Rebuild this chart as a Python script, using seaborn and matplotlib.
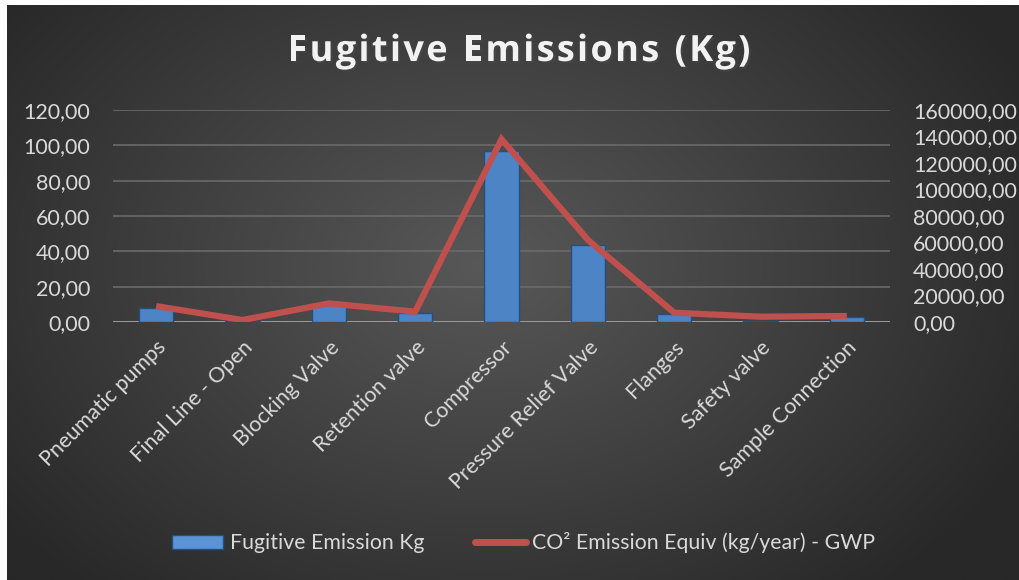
import numpy as np
import pandas as pd
import matplotlib
matplotlib.use("Agg")
import matplotlib.pyplot as plt
import seaborn as sns
from matplotlib.patches import Patch
from matplotlib.lines import Line2D
from matplotlib.ticker import FuncFormatter, FixedLocator
import matplotlib.patheffects as pe

categories = ["Pneumatic pumps", "Final Line - Open", "Blocking Valve", "Retention valve",
              "Compressor", "Pressure Relief Valve", "Flanges", "Safety valve", "Sample Connection"]
fugitive_kg = [8.0, 0.3, 9.5, 5.0, 97.0, 43.5, 4.5, 0.6, 2.8]
co2_equiv = [12000, 1500, 14000, 7800, 138000, 62000, 7000, 4000, 4500]
left_ticks = [0, 20, 40, 60, 80, 100, 120]
right_ticks = [0, 20000, 40000, 60000, 80000, 100000, 120000, 140000, 160000]
title = "Fugitive Emissions (Kg)"

sns.set_theme(style="dark")
plt.rcParams['font.family'] = ['Lato', 'DejaVu Sans']

txt = "#d9d9d9"
fig = plt.figure(figsize=(10.19, 5.8), dpi=100, facecolor="white")

# background radial gradient (chart area)
bg = fig.add_axes([7/1019, 0, 1 - 7/1019, 1 - 5/580])
h, w = 300, 520
yy, xx = np.mgrid[0:h, 0:w]
cx, cy = w * 0.47, h * 0.45
r = np.sqrt(((xx - cx) / (w * 0.6)) ** 2 + ((yy - cy) / (h * 0.75)) ** 2)
r = np.clip(r, 0, 1)
c0 = np.array([0x58, 0x58, 0x58]) / 255
c1 = np.array([0x28, 0x28, 0x28]) / 255
img = c0[None, None, :] * (1 - r[..., None]) + c1[None, None, :] * r[..., None]
bg.imshow(img, aspect="auto", extent=[0, 1, 0, 1], interpolation="bilinear")
bg.set_axis_off()

ax = fig.add_axes([113/1019, 1 - 322/580, (890 - 113)/1019, 212/580])
ax.set_facecolor("none")
df = pd.DataFrame({"cat": categories, "kg": fugitive_kg, "co2": co2_equiv})
sns.barplot(data=df, x="cat", y="kg", ax=ax, color="#4d84c6", width=0.4,
            edgecolor="#24507f", linewidth=1.0, saturation=1, zorder=3)
ax.set_xlim(-0.5, len(categories) - 0.5)
ax.set_ylim(0, 120)
ax.yaxis.set_major_locator(FixedLocator(left_ticks))
ax.yaxis.set_major_formatter(FuncFormatter(lambda v, p: f"{v:.2f}".replace(".", ",")))
ax.grid(axis="y", color="#6a6a6a", linewidth=1.2, zorder=0)
ax.grid(axis="x", visible=False)
for s in ax.spines.values():
    s.set_visible(False)
ax.axhline(0, color="#a0a0a0", linewidth=2, zorder=2)
ax.set_xlabel("")
ax.set_ylabel("")
ax.tick_params(axis="y", colors=txt, labelsize=15.5, length=0, pad=16.5)
ax.tick_params(axis="x", colors=txt, labelsize=15.5, length=0, pad=11)
plt.setp(ax.get_xticklabels(), rotation=45, ha="right", rotation_mode="anchor")

ax2 = ax.twinx()
sns.lineplot(x=np.arange(len(categories)), y=df["co2"], ax=ax2, color="#c0504d",
             linewidth=4.5, solid_joinstyle="miter", solid_capstyle="butt")
ax2.set_ylim(0, 160000)
ax2.yaxis.set_major_locator(FixedLocator(right_ticks))
ax2.yaxis.set_major_formatter(FuncFormatter(lambda v, p: f"{v:.2f}".replace(".", ",")))
ax2.grid(False)
for s in ax2.spines.values():
    s.set_visible(False)
ax2.set_ylabel("")
ax2.tick_params(axis="y", colors=txt, labelsize=15.5, length=0, pad=16.5)
ax2.set_facecolor("none")

# letter-spaced title
renderer = fig.canvas.get_renderer()
tkw = dict(color="#f2f2f2", fontsize=26, fontweight="bold", va="center", ha="left",
           family=["Open Sans", "DejaVu Sans"],
           path_effects=[pe.withSimplePatchShadow(offset=(1.5, -1.5), alpha=0.5)])
spacing = 2.3
widths = []
for ch in title:
    t = fig.text(0, 0, ch if ch != " " else "n", **tkw)
    bb = t.get_window_extent(renderer)
    widths.append(bb.width * (0.45 if ch == " " else 1.0))
    t.remove()
total = sum(widths) + spacing * (len(title) - 1)
x = 519 - total / 2
for ch, wd in zip(title, widths):
    if ch != " ":
        fig.text(x / 1019, 1 - 52 / 580, ch, **tkw)
    x += wd + spacing

handles = [Patch(facecolor="#5b94d6", edgecolor="#24507f"),
           Line2D([0], [0], color="#c0504d", linewidth=5, solid_capstyle="round")]
labels = ["Fugitive Emission Kg", "CO² Emission Equiv (kg/year) - GWP"]
leg = fig.legend(handles, labels, loc="center", bbox_to_anchor=(0.514, 0.064), ncol=2,
                 frameon=False, fontsize=15.3, handlelength=2.4, handletextpad=0.3,
                 columnspacing=2.4)
for t in leg.get_texts():
    t.set_color(txt)

fig.savefig("out.png", dpi=100, facecolor="white")
